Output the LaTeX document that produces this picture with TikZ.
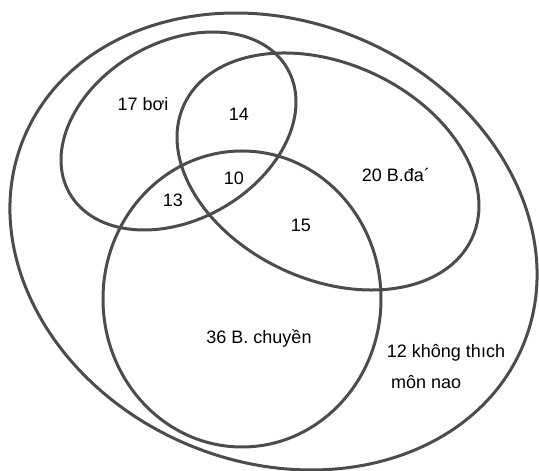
\documentclass[tikz,border=0pt]{standalone}
\usepackage{fontspec}
\setmainfont{Liberation Sans}
\usetikzlibrary{positioning}

\begin{document}
\begin{tikzpicture}[x=1pt,y=1pt,
    ring/.style={draw=black!70,line width=3pt},
    lbl/.style={inner sep=0pt,font=\fontsize{18}{21}\selectfont}]
    \useasboundingbox (0,0) rectangle (539,471);
    % centres of the sets
    \coordinate (all) at (273.5,229.5);
    \coordinate (boi) at (178.5,340);
    \coordinate (da) at (328,299.5);
    \coordinate (chuyen) at (242,172);

    \draw[ring,shift={(all)},rotate=-22.6] (0,0) ellipse [x radius=270.3,y radius=220.4];
    \draw[ring,shift={(boi)},rotate=29.8] (0,0) ellipse [x radius=125.5,y radius=88.6];
    \draw[ring,shift={(da)},rotate=-24.9] (0,0) ellipse [x radius=158.7,y radius=107.9];
    \draw[ring] (chuyen) ellipse [x radius=139,y radius=148];

    \node[lbl] (nboi) at (143,367) {17 bơi};
    \node[lbl] (n14) at (239,357) {14};
    \node[lbl] (n10) at (234,293) {10};
    \node[lbl] (n13) at (173,271) {13};
    \node[lbl] (n15) at (301,246) {15};
    \node[lbl] (nda) at (396,296) {20 B.đa´};
    \node[lbl] (nchuyen) at (259,133) {36 B. chuyền};
    \node[lbl] (nnone) at (446,118) {12 không thıch};
    \node[lbl,anchor=west] (nmon) at (391,89) {môn nao};
\end{tikzpicture}
\end{document}
